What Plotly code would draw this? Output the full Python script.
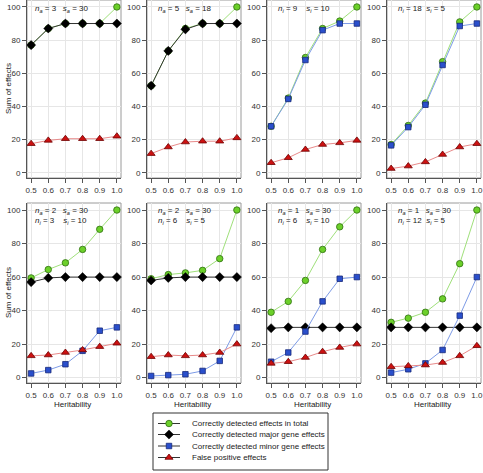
import plotly.graph_objects as go

W, H = 483, 473

heritability = [0.5, 0.6, 0.7, 0.8, 0.9, 1.0]
x_tick_labels = ["0.5", "0.6", "0.7", "0.8", "0.9", "1.0"]
y_ticks = [0, 20, 40, 60, 80, 100]

panel_line1 = [
    "<i>n<sub>a</sub></i> = 3   <i>s<sub>a</sub></i> = 30",
    "<i>n<sub>a</sub></i> = 5   <i>s<sub>a</sub></i> = 18",
    "<i>n<sub>i</sub></i> = 9    <i>s<sub>i</sub></i> = 10",
    "<i>n<sub>i</sub></i> = 18  <i>s<sub>i</sub></i> = 5",
    "<i>n<sub>a</sub></i> = 2   <i>s<sub>a</sub></i> = 30",
    "<i>n<sub>a</sub></i> = 2   <i>s<sub>a</sub></i> = 30",
    "<i>n<sub>a</sub></i> = 1   <i>s<sub>a</sub></i> = 30",
    "<i>n<sub>a</sub></i> = 1   <i>s<sub>a</sub></i> = 30",
]
panel_line2 = [
    None, None, None, None,
    "<i>n<sub>i</sub></i> = 3    <i>s<sub>i</sub></i> = 10",
    "<i>n<sub>i</sub></i> = 6    <i>s<sub>i</sub></i> = 5",
    "<i>n<sub>i</sub></i> = 6    <i>s<sub>i</sub></i> = 10",
    "<i>n<sub>i</sub></i> = 12  <i>s<sub>i</sub></i> = 5",
]

total_effects = [
    [77, 87, 90, 90, 90, 100],
    [52.5, 73.5, 87, 90, 90, 100],
    [28, 45, 69.5, 87, 91.5, 100],
    [17, 28.5, 42, 67, 91, 100],
    [59.5, 64.5, 68.5, 76.5, 88.5, 100],
    [59, 61.5, 62.5, 64, 71, 100],
    [39, 45.5, 58, 76.5, 90, 100],
    [33, 35.5, 39, 47, 68, 100],
]
major_effects = [
    [77, 87, 90, 90, 90, 90],
    [52.5, 73.5, 86.5, 90, 90, 90],
    None,
    None,
    [57, 59.5, 60, 60, 60, 60],
    [58, 59.5, 60, 60, 60, 60],
    [29.5, 30, 30, 30, 30, 30],
    [30, 30, 30, 30, 30, 30],
]
minor_effects = [
    None,
    None,
    [28, 44.5, 68, 86, 90, 90],
    [16.5, 27.5, 41, 65, 88.5, 90],
    [2.5, 4.5, 8, 16, 28, 30],
    [1, 1.5, 2, 4, 10, 30],
    [9.5, 15, 27.5, 45.5, 59, 60],
    [3, 5, 8.5, 16.5, 37, 60],
]
false_positive = [
    [17.5, 19.5, 20.5, 20.5, 20.5, 22],
    [11.5, 15.5, 18.5, 19, 19, 21],
    [6, 9, 14, 17, 18, 19.5],
    [2.5, 4, 6.5, 11, 15.5, 17.5],
    [13, 13.5, 15, 16.5, 18.5, 20.5],
    [12.5, 13.5, 13, 13.5, 15, 20],
    [8.5, 9.5, 12, 15.5, 18, 20],
    [6.5, 7, 7.5, 9, 13, 19],
]

legend_labels = [
    "Correctly detected effects in total",
    "Correctly detected major gene effects",
    "Correctly detected minor gene effects",
    "False positive effects",
]

FONT = "Liberation Sans, Arial, sans-serif"

styles = [
    dict(line=dict(color="#9FE07A", width=1),
         marker=dict(symbol="circle", size=6.5, color="#6CD02A", line=dict(color="#2E6E10", width=0.8))),
    dict(line=dict(color="#333333", width=1),
         marker=dict(symbol="diamond", size=7, color="#000000", line=dict(color="#000000", width=0.5))),
    dict(line=dict(color="#7D9BE6", width=1),
         marker=dict(symbol="square", size=5.5, color="#2A4FCC", line=dict(color="#17287A", width=0.8))),
    dict(line=dict(color="#E88A8A", width=1),
         marker=dict(symbol="triangle-up", size=7, color="#CC1111", line=dict(color="#6E0000", width=0.8))),
]

fig = go.Figure()

col_left = [27, 147, 267, 387]
col_w = 94
row_top = [0, 203]
row_bot = [178, 383]

def px_x(p):
    return p / W

def px_y(p):
    return 1 - p / H

shapes = []
annotations = []

for k in range(8):
    r, c = divmod(k, 4)
    idx = k + 1
    xa = "x" if idx == 1 else f"x{idx}"
    ya = "y" if idx == 1 else f"y{idx}"
    series = [total_effects[k], major_effects[k], minor_effects[k], false_positive[k]]
    for s, vals in enumerate(series):
        if vals is None:
            continue
        fig.add_trace(go.Scatter(
            x=heritability, y=vals, mode="lines+markers", xaxis=xa, yaxis=ya,
            line=styles[s]["line"], marker=styles[s]["marker"], showlegend=False,
            hoverinfo="skip", cliponaxis=False))
    xdom = [px_x(col_left[c]), px_x(col_left[c] + col_w)]
    ydom = [px_y(row_bot[r]), px_y(row_top[r])]
    axname = "xaxis" if idx == 1 else f"xaxis{idx}"
    ayname = "yaxis" if idx == 1 else f"yaxis{idx}"
    fig.layout[axname] = dict(
        domain=xdom, anchor=ya, range=[0.476, 1.024], automargin=False,
        tickvals=heritability, ticktext=x_tick_labels,
        ticks="outside", ticklen=4, tickwidth=1, tickcolor="#555",
        showline=True, linecolor="#555", linewidth=1,
        showgrid=True, gridcolor="#E6E6E6", gridwidth=1, zeroline=False,
        tickfont=dict(size=8, color="#333", family=FONT),
    )
    fig.layout[ayname] = dict(
        domain=ydom, anchor=xa, range=[-3.2, 104.2], automargin=False,
        tickvals=y_ticks, ticks="outside", ticklen=4, tickwidth=1, tickcolor="#555",
        showline=True, linecolor="#555", linewidth=1,
        showgrid=True, gridcolor="#E6E6E6", gridwidth=1, zeroline=False,
        tickfont=dict(size=8, color="#333", family=FONT),
    )
    shapes.append(dict(type="rect", xref=f"{xa} domain", yref=f"{ya} domain",
                       x0=0, x1=1, y0=0, y1=1, line=dict(color="#9A9A9A", width=1), layer="below"))
    tx = col_left[c] + (6 if c == 0 else 9)
    ty1 = 9 if r == 0 else 211
    annotations.append(dict(text=panel_line1[k], xref="paper", yref="paper",
                            x=px_x(tx), y=px_y(ty1), xanchor="left", yanchor="middle",
                            showarrow=False, font=dict(size=8, color="#222", family=FONT)))
    if panel_line2[k]:
        annotations.append(dict(text=panel_line2[k], xref="paper", yref="paper",
                                x=px_x(tx), y=px_y(ty1 + 10), xanchor="left", yanchor="middle",
                                showarrow=False, font=dict(size=8, color="#222", family=FONT)))
    if c == 0:
        annotations.append(dict(text="Sum of effects", xref="paper", yref="paper",
                                x=px_x(8), y=px_y((row_top[r] + row_bot[r]) / 2), textangle=-90,
                                xanchor="center", yanchor="middle", showarrow=False,
                                font=dict(size=8, color="#222", family=FONT)))
    if r == 1:
        annotations.append(dict(text="Heritability", xref="paper", yref="paper",
                                x=px_x(col_left[c] + col_w / 2 - 2), y=px_y(404),
                                xanchor="center", yanchor="middle", showarrow=False,
                                font=dict(size=8, color="#222", family=FONT)))

# legend drawn on its own axes
leg_x0, leg_x1, leg_y0, leg_y1 = 153, 328, 413, 470
fig.layout["xaxis9"] = dict(domain=[px_x(leg_x0), px_x(leg_x1)], anchor="y9", range=[0, 175],
                            visible=False, fixedrange=True)
fig.layout["yaxis9"] = dict(domain=[px_y(leg_y1), px_y(leg_y0)], anchor="x9", range=[57, 0],
                            visible=False, fixedrange=True)
row_y = [10.5, 21.5, 33, 44.5]
for s in range(4):
    fig.add_trace(go.Scatter(x=[5, 27], y=[row_y[s], row_y[s]], mode="lines", xaxis="x9", yaxis="y9",
                             line=dict(color="#333333", width=1), showlegend=False, hoverinfo="skip"))
    fig.add_trace(go.Scatter(x=[16], y=[row_y[s]], mode="markers", xaxis="x9", yaxis="y9",
                             marker=styles[s]["marker"], showlegend=False, hoverinfo="skip"))
    annotations.append(dict(text=legend_labels[s], xref="x9", yref="y9", x=37, y=row_y[s],
                            xanchor="left", yanchor="middle", showarrow=False,
                            font=dict(size=8, color="#222", family=FONT)))
shapes.append(dict(type="rect", xref="x9 domain", yref="y9 domain", x0=0, x1=1, y0=0, y1=1,
                   line=dict(color="#333", width=1)))

fig.update_layout(
    width=W, height=H, margin=dict(l=0, r=0, t=0, b=0, autoexpand=False),
    paper_bgcolor="white", plot_bgcolor="white",
    shapes=shapes, annotations=annotations, showlegend=False,
    font=dict(family=FONT), hovermode=False,
)

fig.write_html("out.html", config={"displayModeBar": False, "staticPlot": True},
               post_script="document.body.style.margin='0';document.body.style.padding='0';")
